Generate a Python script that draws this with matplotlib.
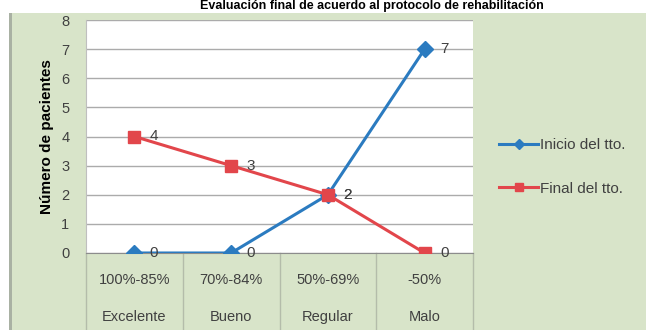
import numpy as np
import matplotlib
matplotlib.use("Agg")
import matplotlib.pyplot as plt
from matplotlib.patches import Rectangle

plt.rcParams['font.family'] = ['Liberation Sans', 'DejaVu Sans']

# datos
rangos = ["100%-85%", "70%-84%", "50%-69%", "-50%"]
categorias = ["Excelente", "Bueno", "Regular", "Malo"]
inicio = [0, 0, 2, 7]
final = [4, 3, 2, 0]
titulo = "Evaluación final de acuerdo al protocolo de rehabilitación"

azul = "#2b7bc0"
rojo = "#e2464b"
verde = "#d8e4c9"
gris = "#404040"

W, H = 646, 330
fig = plt.figure(figsize=(W / 100, H / 100), dpi=100, facecolor=verde)

# franja blanca superior, borde izquierdo
fig.patches.append(Rectangle((0, 1 - 13 / H), 1, 13 / H, transform=fig.transFigure,
                             facecolor="white", edgecolor="none", zorder=0))
fig.patches.append(Rectangle((0, 0), 9 / W, 1, transform=fig.transFigure,
                             facecolor="white", edgecolor="none", zorder=0))
fig.patches.append(Rectangle((9 / W, 0), 3 / W, 1 - 13 / H, transform=fig.transFigure,
                             facecolor="#a9b1a3", edgecolor="none", zorder=0))

# titulo en la franja superior
fig.text(0.575, 1 - 6.5 / H, titulo, ha="center", va="center",
         fontsize=9, fontweight="bold", color="black")

ax = fig.add_axes([86 / W, 1 - 253 / H, (473 - 86) / W, (253 - 20) / H])
ax.set_facecolor("white")
x = np.arange(len(categorias))

ax.plot(x, inicio, color=azul, lw=2.2, marker="D", ms=8, label="Inicio del tto.", zorder=3)
ax.plot(x, final, color=rojo, lw=2.2, marker="s", ms=9, label="Final del tto.", zorder=3)

for serie in (inicio, final):
    for xi, v in zip(x, serie):
        ax.annotate(str(v), (xi, v), xytext=(11, 0), textcoords="offset points",
                    ha="left", va="center", fontsize=11, color=gris, zorder=4)

ax.set_xlim(-0.5, len(categorias) - 0.5)
ax.set_ylim(0, 8)
ax.set_yticks(range(0, 9))
ax.yaxis.grid(True, color="#ababab", lw=1)
ax.set_axisbelow(True)
ax.set_xticks([])
ax.tick_params(axis="y", length=0, labelsize=10.5, labelcolor=gris, pad=12)
for s in ("top", "right"):
    ax.spines[s].set_visible(False)
ax.spines["left"].set_color("#bfbfbf")
ax.spines["bottom"].set_color("#8c8c8c")
ax.set_ylabel("Número de pacientes", fontsize=11, fontweight="bold", color="black", labelpad=5)

# tabla de categorias bajo el eje
tr = ax.get_xaxis_transform()
alto = 253 - 20
for b in np.arange(len(categorias) + 1) - 0.5:
    ax.plot([b, b], [0, -(330 - 253) / alto], transform=tr, color="#b4bcaa",
            lw=1, clip_on=False)
for xi, r, c in zip(x, rangos, categorias):
    ax.text(xi, -(280 - 253) / alto, r, transform=tr, ha="center", va="center",
            fontsize=10.5, color=gris)
    ax.text(xi, -(317 - 253) / alto, c, transform=tr, ha="center", va="center",
            fontsize=10.5, color=gris)

fig.legend(loc="center left", bbox_to_anchor=(485 / W, 1 - 167 / H), frameon=False,
           fontsize=11, labelspacing=1.9, handlelength=2.6, handletextpad=0.1,
           markerscale=0.6, labelcolor=gris)

fig.savefig("out.png", dpi=100, facecolor=fig.get_facecolor())
